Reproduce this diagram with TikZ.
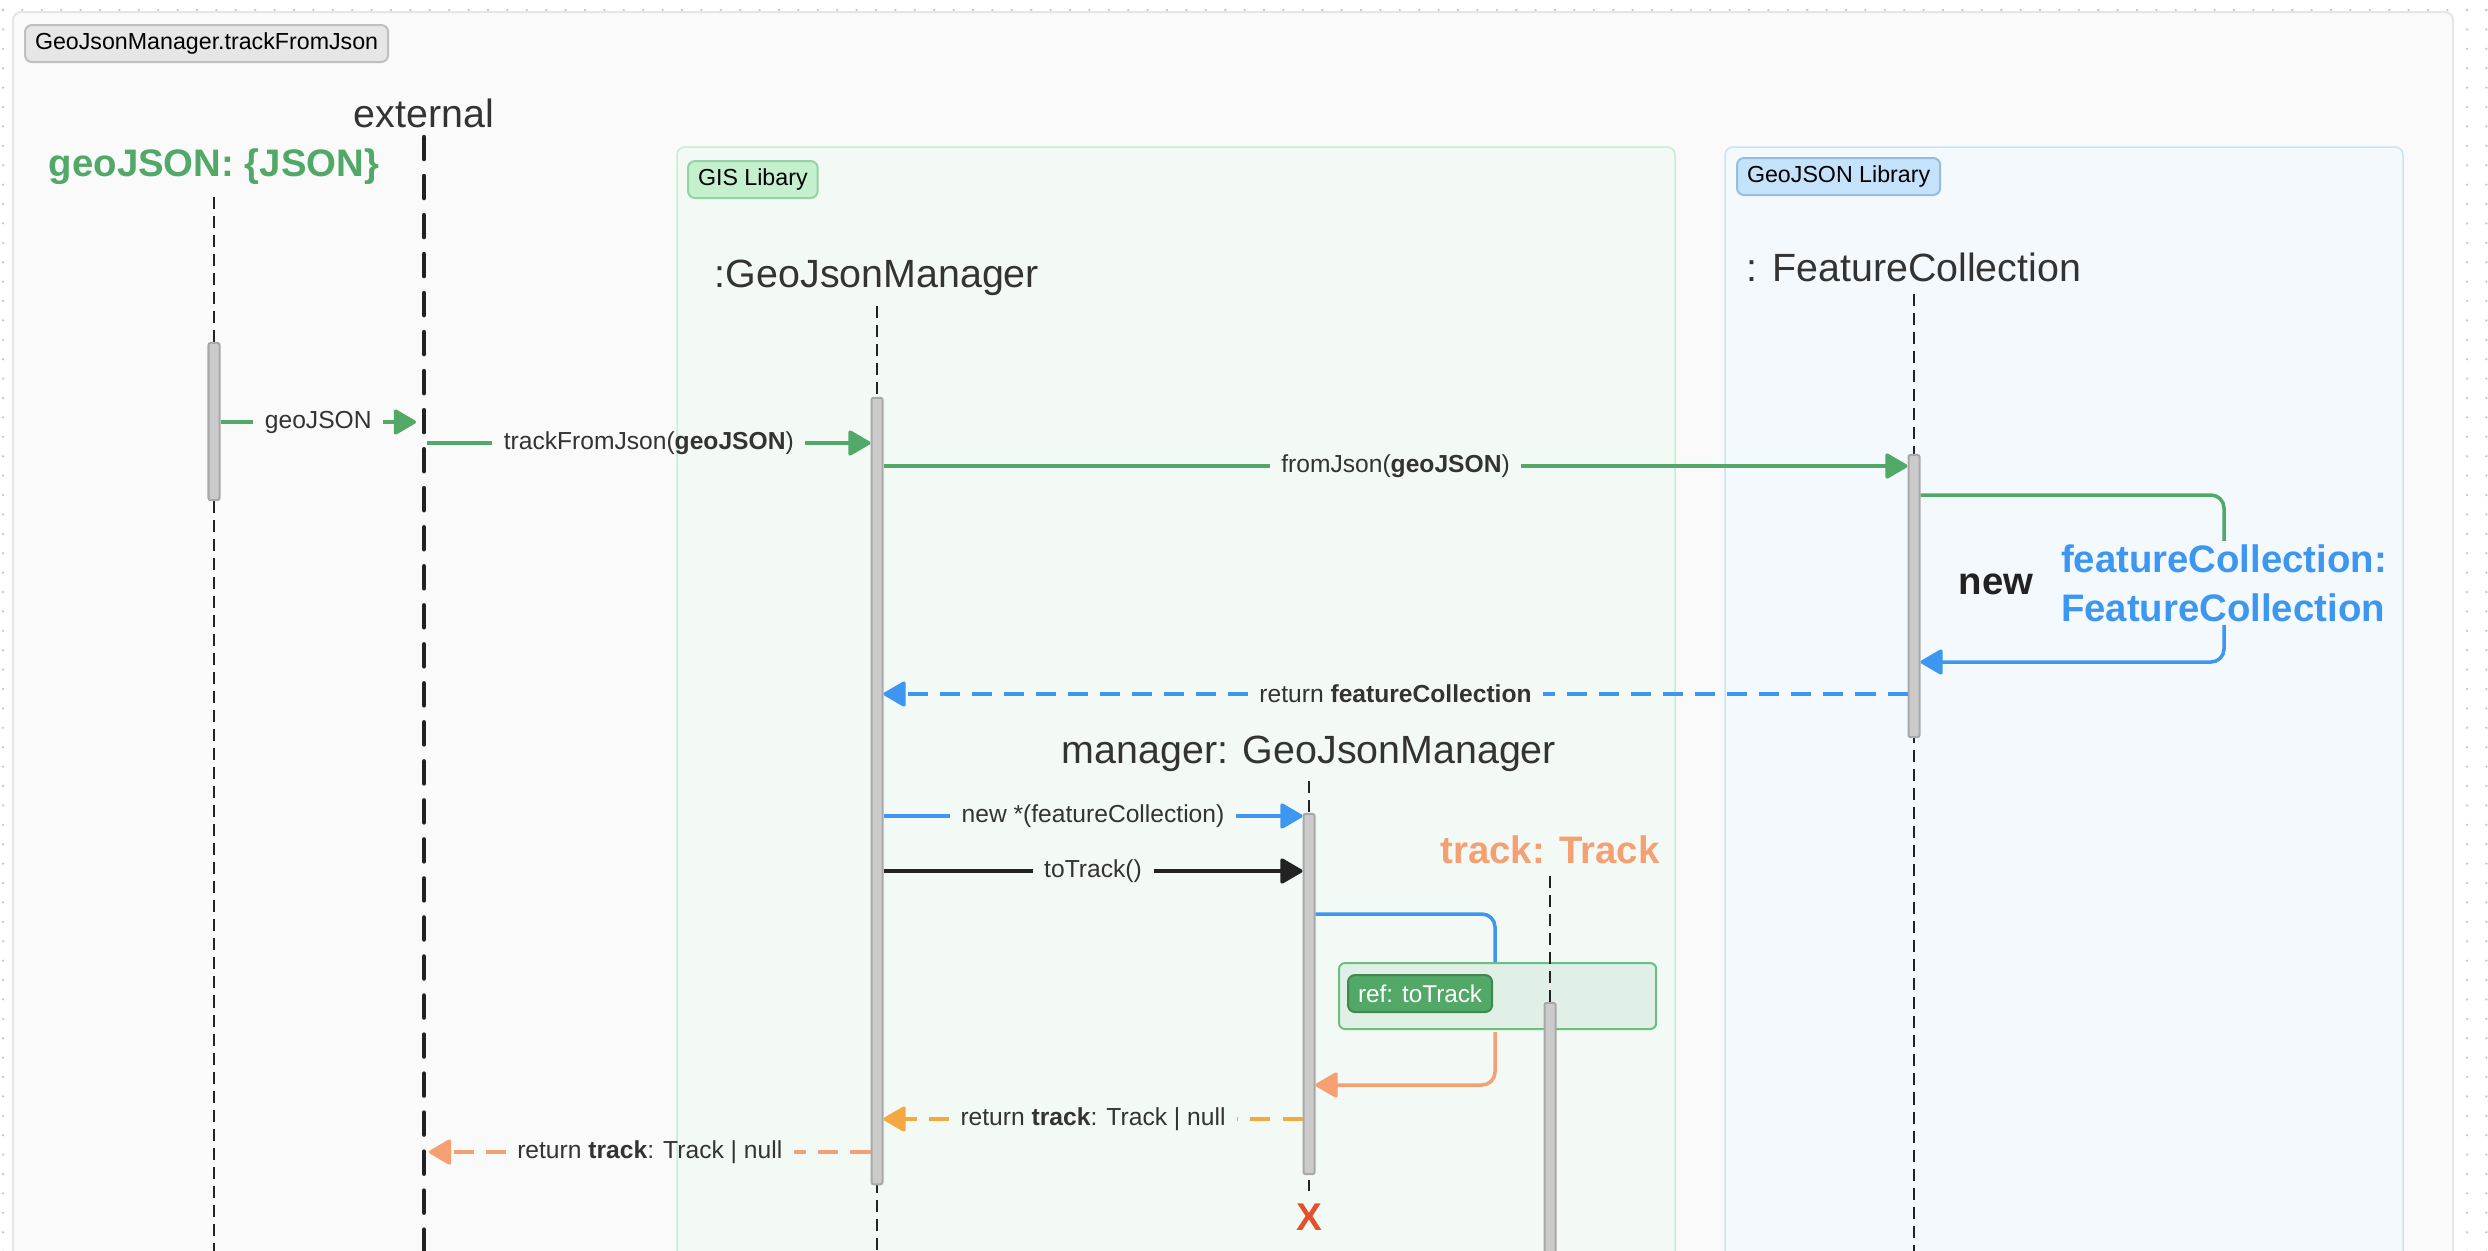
\documentclass[tikz,border=0pt]{standalone}
\usepackage{fontspec}
\setmainfont{Liberation Sans}
\usetikzlibrary{arrows.meta,positioning,calc}
\definecolor{gjgreen}{RGB}{82,168,102}
\definecolor{gjblue}{RGB}{61,150,240}
\definecolor{gjsalmon}{RGB}{244,160,114}
\definecolor{gjamber}{RGB}{244,168,66}
\definecolor{gjink}{RGB}{34,34,34}
\definecolor{gjtext}{RGB}{51,51,51}
\definecolor{gjred}{RGB}{226,80,44}
\definecolor{gjpaper}{RGB}{250,250,250}
\definecolor{gjrule}{RGB}{230,230,230}
\definecolor{gjdot}{RGB}{200,200,200}
\definecolor{gisfill}{RGB}{243,250,245}
\definecolor{gisline}{RGB}{198,238,208}
\definecolor{gistag}{RGB}{196,240,206}
\definecolor{gistagline}{RGB}{150,208,166}
\definecolor{geofill}{RGB}{243,249,253}
\definecolor{geoline}{RGB}{200,228,250}
\definecolor{geotag}{RGB}{196,226,250}
\definecolor{geotagline}{RGB}{150,188,224}
\definecolor{reffill}{RGB}{224,240,231}
\definecolor{refline}{RGB}{108,190,132}
\definecolor{barfill}{RGB}{203,203,203}
\definecolor{barline}{RGB}{168,168,168}
\newcommand{\callmsg}[5]{%
  \coordinate (my) at (0,#4);
  \node[mlab] (ml) at ($(#2 |- my)!0.5!(#3 |- my)$) {#5};
  \draw[#1] (#2 |- my) -- (ml.west);
  \draw[#1, msgtip] (ml.east) -- (#3 |- my);}
\newcommand{\retmsg}[5]{%
  \coordinate (my) at (0,#4);
  \node[mlab] (ml) at ($(#2 |- my)!0.5!(#3 |- my)$) {#5};
  \draw[#1] (#2 |- my) -- (ml.east);
  \draw[#1, msgtip] (ml.west) -- (#3 |- my);}
\tikzset{
  plab/.style={font=\fontsize{11.2}{13.9}\selectfont, text=gjtext, inner sep=0pt},
  pbold/.style={font=\fontsize{10.9}{13.9}\selectfont\bfseries, inner sep=0pt},
  mlab/.style={font=\fontsize{7}{8.4}\selectfont, text=gjtext, inner xsep=0.11cm, inner ysep=0pt},
  tagbox/.style={draw, rounded corners=0.07cm, line width=0.02cm, font=\fontsize{6.6}{8}\selectfont,
    text=black, inner xsep=0.1cm, inner ysep=0pt, minimum height=0.37cm, anchor=north west},
  group/.style={rounded corners=0.08cm, line width=0.015cm},
  lifeln/.style={gjink, line width=0.02cm, dash pattern=on 0.12cm off 0.07cm},
  extln/.style={gjink, line width=0.045cm, line cap=round, dash pattern=on 0.22cm off 0.17cm},
  actbar/.style={draw=barline, fill=barfill, line width=0.02cm, rounded corners=0.02cm,
    minimum width=0.11cm, inner sep=0pt},
  msgtip/.style={-{Triangle[length=0.24cm, width=0.27cm, round]}},
  call/.style={line width=0.035cm},
  back/.style={line width=0.035cm, dash pattern=on 0.2cm off 0.12cm},
}
\begin{document}
\begin{tikzpicture}[x=0.01cm, y=-0.01cm]
\useasboundingbox (0,0) rectangle (2488,1250);
% canvas dots
\foreach \k in {0,...,64} {
  \fill[gjdot] (3,10+19.4*\k) circle (0.013cm);
  \fill[gjdot] (2467,10+19.4*\k) circle (0.013cm);
  \fill[gjdot] (2486.4,10+19.4*\k) circle (0.013cm);}
\foreach \k in {0,...,128} \fill[gjdot] (3+19.4*\k,10) circle (0.013cm);
\draw[gjrule, fill=gjpaper, line width=0.02cm, rounded corners=0.08cm] (13,12) rectangle (2453,1300);

% groups
\draw[group, draw=gisline, fill=gisfill] (677,147) rectangle (1675,1300);
\draw[group, draw=geoline, fill=geofill] (1725,147) rectangle (2403,1300);
\node[tagbox, draw=black!25, fill=gjrule] (tTitle) at (24,24) {GeoJsonManager.trackFromJson};
\node[tagbox, draw=gistagline, fill=gistag] (tGis) at (687,160) {GIS Libary};
\node[tagbox, draw=geotagline, fill=geotag] (tGeo) at (1736,157) {GeoJSON Library};

% participants
\node[pbold, text=gjgreen] (pGeo) at (214,167) {geoJSON: \{JSON\}};
\node[plab] (pExt) at (424,113) {external};
\node[plab] (pMgr) at (877,278) {:GeoJsonManager};
\node[plab] (pFC) at (1914,267) {: FeatureCollection};
\node[plab] (pMan) at (1309,754) {manager: GeoJsonManager};
\node[pbold, text=gjsalmon] (pTrk) at (1550,850) {track: Track};
\node[font=\fontsize{11}{12}\selectfont\bfseries, text=gjred] (xMan) at (1309,1217) {X};

% ref frame
\node[draw=refline, fill=reffill, line width=0.02cm, rounded corners=0.06cm, minimum width=3.17cm,
  minimum height=0.66cm, anchor=north west, inner sep=0pt] (refTT) at (1338,962) {};
\node[tagbox, draw=gjgreen!80!black, fill=gjgreen, text=white, font=\fontsize{6.9}{8}\selectfont]
  (tRef) at (1347,974) {ref: toTrack};

% lifelines
\draw[lifeln] (214,197) -- (214,1260);
\draw[extln] (424,137) -- (424,1262);
\draw[lifeln] (877,306) -- (877,1260);
\draw[lifeln] (1914,294) -- (1914,1260);
\draw[lifeln] (1309,781) -- (xMan.north);
\draw[lifeln] (1550,876) -- (1550,1260);
\coordinate (extIn) at (416,0);
\coordinate (extOut) at (427,0);
\coordinate (extRet) at (429,0);

% activations
\node[actbar, minimum height=1.57cm] (aGeo) at (214,421.5) {};
\node[actbar, minimum height=7.86cm] (aMgr) at (877,791) {};
\node[actbar, minimum height=2.82cm] (aFC) at (1914,596) {};
\node[actbar, minimum height=3.60cm] (aMan) at (1309,994) {};
\node[actbar, minimum height=3.00cm] (aTrk) at (1550,1153) {};

% messages
\callmsg{call, gjgreen}{aGeo.east}{extIn}{422}{geoJSON}
\callmsg{call, gjgreen}{extOut}{aMgr.west}{443}{trackFromJson(\textbf{geoJSON})}
\callmsg{call, gjgreen}{aMgr.east}{aFC.west}{466}{fromJson(\textbf{geoJSON})}
\retmsg{back, gjblue}{aFC.west}{aMgr.east}{694}{return \textbf{featureCollection}}
\callmsg{call, gjblue}{aMgr.east}{aMan.west}{816}{new *(featureCollection)}
\callmsg{call, gjink}{aMgr.east}{aMan.west}{871}{toTrack()}
\retmsg{back, gjamber}{aMan.west}{aMgr.east}{1119}{return \textbf{track}: Track \textbar{} null}
\retmsg{back, gjsalmon}{aMgr.west}{extRet}{1152}{return \textbf{track}: Track \textbar{} null}

% creation of featureCollection
\node[pbold, text=gjink] (lNew) at (1996,584) {new};
\node[pbold, text=gjblue, align=left, inner ysep=0.03cm] (lFC) at (2224,583) {featureCollection:\\FeatureCollection};
\coordinate (fcOut) at (0,495);
\coordinate (fcIn) at (0,662);
\draw[call, gjgreen, rounded corners=0.13cm] (aFC.east |- fcOut) -| (lFC.north);
\draw[call, gjblue, msgtip, rounded corners=0.13cm] (lFC.south) |- (aFC.east |- fcIn);

% toTrack reference
\coordinate (kIn) at ($(refTT.north west)+(157,0)$);
\coordinate (kOut) at ($(refTT.south west)+(157,2)$);
\coordinate (tkOut) at (0,914);
\coordinate (tkIn) at (0,1085);
\draw[call, gjblue, rounded corners=0.13cm] (aMan.east |- tkOut) -| (kIn);
\draw[call, gjsalmon, msgtip, rounded corners=0.13cm] (kOut) |- (aMan.east |- tkIn);
\end{tikzpicture}
\end{document}
